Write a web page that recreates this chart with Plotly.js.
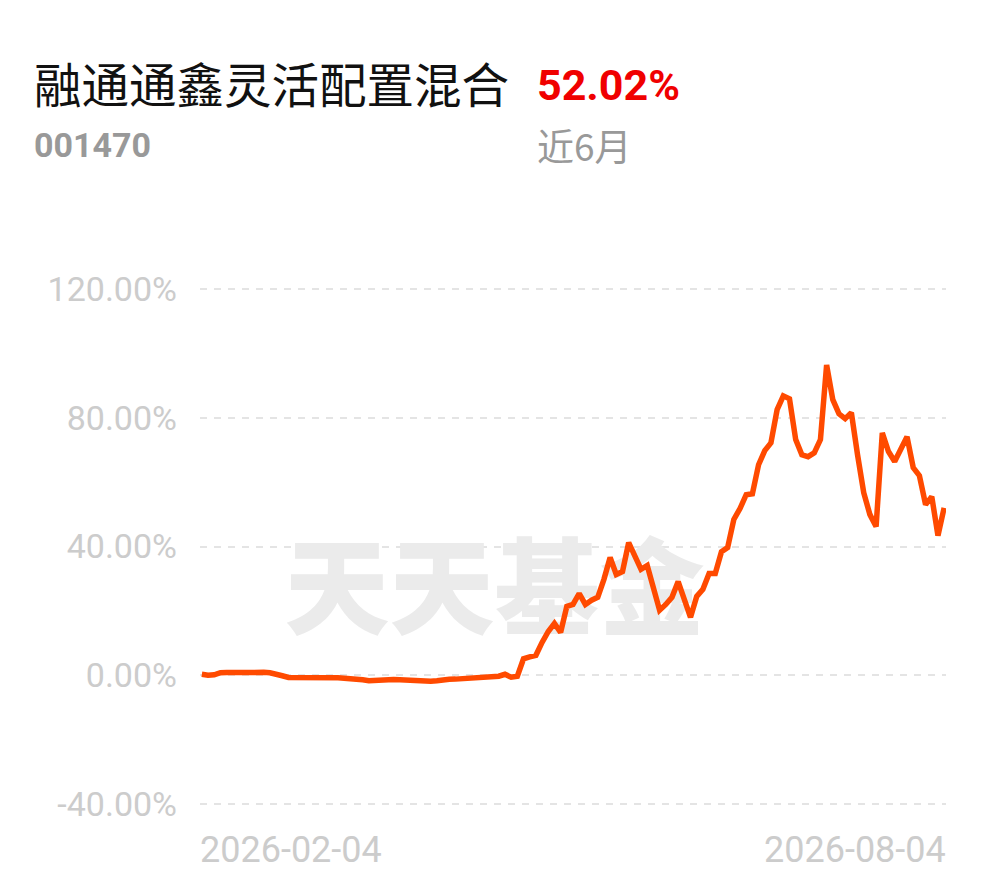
<!DOCTYPE html>
<html>
<head>
<meta charset="utf-8">
<script src="https://cdn.plot.ly/plotly-3.0.1.min.js"></script>
<style>
  html, body { margin: 0; padding: 0; background: #fff; }
  #myDiv { width: 990px; height: 878px; }
</style>
</head>
<body>
<div id="myDiv"></div>
<script>
var fundName = '融通通鑫灵活配置混合';
var fundCode = '001470';
var periodReturn = '52.02%';
var periodLabel = '近6月';
var watermark = '天天基金';

// daily cumulative return, percent
var returns = [
  0.3, 0.0, 0.15, 0.8, 0.85, 0.9, 1.0, 1.0, 0.9, 1.0,
  0.9, 0.75, 0.45, -0.15, -0.7, -0.7, -0.7, -0.55, -0.45, -0.4,
  -0.45, -0.7, -0.8, -0.9, -0.95, -1.0, -1.4, -1.7, -1.55, -1.3,
  -1.3, -1.35, -1.4, -1.55, -1.75, -1.7, -1.75, -1.85, -1.7, -1.3,
  -1.25, -1.2, -1.1, -0.95, -0.85, -0.7, -0.6, -0.55, -0.3, 0.3,
  -0.6, -0.3, 5.1, 5.7, 6.2, 10.2, 13.6, 16.1, 13.3, 21.4,
  22.0, 25.4, 22.0, 23.3, 24.2, 29.8, 36.6, 31.3, 32.2, 41.2,
  37.5, 32.9, 34.1, 27.3, 20.2, 22.0, 24.2, 29.1, 23.6, 18.0,
  24.5, 26.7, 31.6, 31.6, 38.4, 39.7, 48.4, 51.8, 56.1, 56.4,
  65.4, 69.8, 72.2, 82.5, 86.8, 85.9, 73.2, 68.5, 67.9, 69.1,
  73.2, 96.4, 85.6, 81.2, 79.7, 81.6, 68.5, 56.7, 49.9, 46.2,
  75.3, 69.5, 66.4, 70.7, 74.1, 64.5, 62.0, 53.0, 55.5, 43.4,
  52.02
];
var days = returns.map(function (v, i) { return i; });

var yTicks = [-40, 0, 40, 80, 120];
var yTickText = yTicks.map(function (v) { return v.toFixed(2) + '%'; });
var xTickLabels = ['2026-02-04', '2026-08-04'];
var xTickIdx = [0, returns.length - 1];

var mark = {
  x: [47.3],
  y: [23.5],
  text: [watermark],
  mode: 'text',
  textposition: 'middle center',
  textfont: {family: 'Noto Sans CJK SC', size: 105, color: '#ebebeb', weight: 900},
  hoverinfo: 'skip'
};

var line = {
  x: days,
  y: returns,
  mode: 'lines',
  line: {color: '#ff4a00', width: 5.5},
  hoverinfo: 'skip'
};

var annos = [
  {text: fundName, xref: 'paper', yref: 'paper', x: -0.2252, y: 1.368,
   xanchor: 'left', yanchor: 'middle', showarrow: false,
   font: {family: 'Noto Sans CJK SC', size: 47.5, color: '#111'}},
  {text: periodReturn, xref: 'paper', yref: 'paper', x: 0.449, y: 1.3626,
   xanchor: 'left', yanchor: 'middle', showarrow: false,
   font: {family: 'Roboto', size: 43, color: '#f00000', weight: 700}},
  {text: fundCode, xref: 'paper', yref: 'paper', x: -0.2252, y: 1.2505,
   xanchor: 'left', yanchor: 'middle', showarrow: false,
   font: {family: 'Roboto', size: 34, color: '#999', weight: 700}},
  {text: periodLabel, xref: 'paper', yref: 'paper', x: 0.449, y: 1.2505,
   xanchor: 'left', yanchor: 'middle', showarrow: false,
   font: {family: 'Noto Sans CJK SC', size: 37, color: '#999'}}
];
xTickIdx.forEach(function (idx, k) {
  annos.push({
    text: xTickLabels[k], xref: 'x', yref: 'paper', x: idx, y: 0,
    xanchor: k === 0 ? 'left' : 'right', yanchor: 'top', yshift: -13,
    xshift: k === 0 ? -4 : 4,
    showarrow: false,
    font: {family: 'Roboto', size: 36, color: '#cccccc'}
  });
});

var layout = {
  width: 990,
  height: 878,
  margin: {l: 200, r: 44, t: 279, b: 64},
  paper_bgcolor: '#fff',
  plot_bgcolor: '#fff',
  showlegend: false,
  hovermode: false,
  xaxis: {
    range: [-0.3, returns.length - 0.7],
    showgrid: false, zeroline: false, showline: false,
    showticklabels: false, ticks: ''
  },
  yaxis: {
    range: [-43.1, 123.1],
    tickmode: 'array',
    tickvals: yTicks,
    ticktext: yTickText,
    showgrid: true,
    gridcolor: '#e4e4e4',
    gridwidth: 2,
    griddash: '7px,7px',
    zeroline: false,
    showline: false,
    ticks: '',
    ticklabelstandoff: 22,
    tickfont: {family: 'Roboto', size: 34, color: '#cccccc'}
  },
  annotations: annos
};

Plotly.newPlot('myDiv', [mark, line], layout, {displayModeBar: false, staticPlot: true});
</script>
</body>
</html>
